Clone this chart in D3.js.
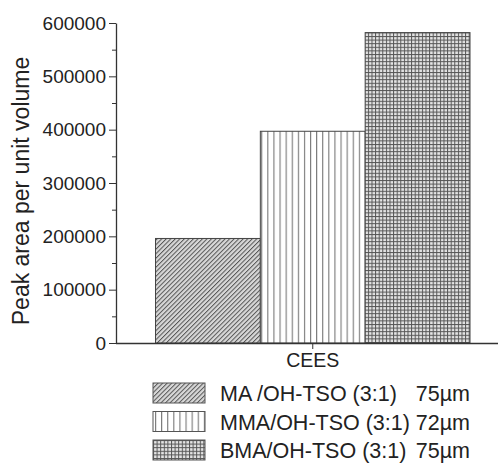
<!DOCTYPE html>
<html>
<head>
<meta charset="utf-8">
<title>Peak area per unit volume</title>
<script src="https://d3js.org/d3.v7.min.js"></script>
<style>
  body { margin: 0; background: #fff; }
  text { font-family: "Liberation Sans", Arial, sans-serif; fill: #222; }
</style>
</head>
<body>
<svg id="chart" width="498" height="464"></svg>
<script>
// data
var categories = ["CEES"];
var seriesNames = ["MA /OH-TSO (3:1)", "MMA/OH-TSO (3:1)", "BMA/OH-TSO (3:1)"];
var seriesSizes = ["75\u00b5m", "72\u00b5m", "75\u00b5m"];
var seriesValues = [196000, 397000, 582000];
var yTicks = [0, 100000, 200000, 300000, 400000, 500000, 600000];
var patternIds = ["diag", "vert", "grid"];

var svg = d3.select("#chart");
var margin = { left: 116, top: 23, bottom: 343 };

var y = d3.scaleLinear().domain([0, 600000]).range([margin.bottom, margin.top]);
var x = d3.scaleBand().domain(categories).range([155.5, 470]);
var xs = d3.scaleBand().domain(seriesNames).range([0, x.bandwidth()]);

// fill patterns
var defs = svg.append("defs");
var pd = defs.append("pattern").attr("id", "diag").attr("patternUnits", "userSpaceOnUse")
  .attr("width", 3.2).attr("height", 3.2).attr("patternTransform", "rotate(45)");
pd.append("rect").attr("width", 3.2).attr("height", 3.2).attr("fill", "#d8d8d8");
pd.append("line").attr("x1", 0).attr("y1", 0).attr("x2", 0).attr("y2", 3.2)
  .attr("stroke", "#555").attr("stroke-width", 2);

var pv = defs.append("pattern").attr("id", "vert").attr("patternUnits", "userSpaceOnUse")
  .attr("width", 6.1).attr("height", 10).attr("x", 2);
pv.append("rect").attr("width", 6.1).attr("height", 10).attr("fill", "#fff");
pv.append("line").attr("x1", 0.5).attr("y1", 0).attr("x2", 0.5).attr("y2", 10)
  .attr("stroke", "#777").attr("stroke-width", 1.2);

var pg = defs.append("pattern").attr("id", "grid").attr("patternUnits", "userSpaceOnUse")
  .attr("width", 3.6).attr("height", 3.6);
pg.append("rect").attr("width", 3.6).attr("height", 3.6).attr("fill", "#e4e4e4");
pg.append("line").attr("x1", 0.5).attr("y1", 0).attr("x2", 0.5).attr("y2", 3.6)
  .attr("stroke", "#555").attr("stroke-width", 1);
pg.append("line").attr("x1", 0).attr("y1", 0.5).attr("x2", 3.6).attr("y2", 0.5)
  .attr("stroke", "#555").attr("stroke-width", 1);

// bars
var cat = svg.append("g").selectAll("g").data(categories).enter().append("g")
  .attr("transform", function(d) { return "translate(" + x(d) + ",0)"; });

cat.selectAll("rect")
  .data(seriesValues.map(function(v, i) { return { name: seriesNames[i], value: v, i: i }; }))
  .enter().append("rect")
  .attr("x", function(d) { return xs(d.name); })
  .attr("width", xs.bandwidth())
  .attr("y", function(d) { return y(d.value); })
  .attr("height", function(d) { return y(0) - y(d.value); })
  .attr("fill", function(d) { return "url(#" + patternIds[d.i] + ")"; })
  .attr("stroke", "#444")
  .attr("stroke-width", 1);

// y axis with minor ticks
var minor = d3.range(50000, 600000, 100000);
svg.append("g")
  .attr("transform", "translate(" + margin.left + ",0)")
  .call(d3.axisLeft(y).tickValues(minor).tickSize(4).tickFormat(""))
  .call(function(g) { g.select(".domain").remove(); })
  .selectAll("line").attr("stroke", "#333");

var yAxis = svg.append("g")
  .attr("transform", "translate(" + margin.left + ",0)")
  .call(d3.axisLeft(y).tickValues(yTicks).tickSize(7).tickPadding(3).tickFormat(d3.format("d")).tickSizeOuter(0));
yAxis.selectAll("text").style("font-size", "19px").attr("fill", "#222");
yAxis.select(".domain").attr("stroke", "#333").attr("stroke-width", 1.3);
yAxis.selectAll("line").attr("stroke", "#333");

// x axis
var xAxis = svg.append("g")
  .attr("transform", "translate(0," + margin.bottom + ")")
  .call(d3.axisBottom(x).tickSize(6).tickSizeOuter(0).tickPadding(4));
xAxis.select(".domain").attr("d", "M" + margin.left + ",0.5H498").attr("stroke", "#333").attr("stroke-width", 1.3);
xAxis.selectAll("line").attr("stroke", "#333");
xAxis.selectAll("text").style("font-size", "19.5px").attr("fill", "#222");

// y label
svg.append("text")
  .attr("transform", "translate(29,191) rotate(-90)")
  .attr("text-anchor", "middle")
  .style("font-size", "23px")
  .text("Peak area per unit volume");

// legend
var legend = svg.append("g").selectAll("g").data(seriesNames).enter().append("g")
  .attr("transform", function(d, i) { return "translate(153," + (383 + i * 28.5) + ")"; });
legend.append("rect")
  .attr("width", 52).attr("height", 20)
  .attr("fill", function(d, i) { return "url(#" + patternIds[i] + ")"; })
  .attr("stroke", "#555").attr("stroke-width", 1);
legend.append("text")
  .attr("x", 67).attr("y", 18)
  .style("font-size", "21.5px")
  .text(function(d) { return d; });
legend.append("text")
  .attr("x", 317).attr("y", 18)
  .attr("text-anchor", "end")
  .style("font-size", "21.5px")
  .text(function(d, i) { return seriesSizes[i]; });
</script>
</body>
</html>
